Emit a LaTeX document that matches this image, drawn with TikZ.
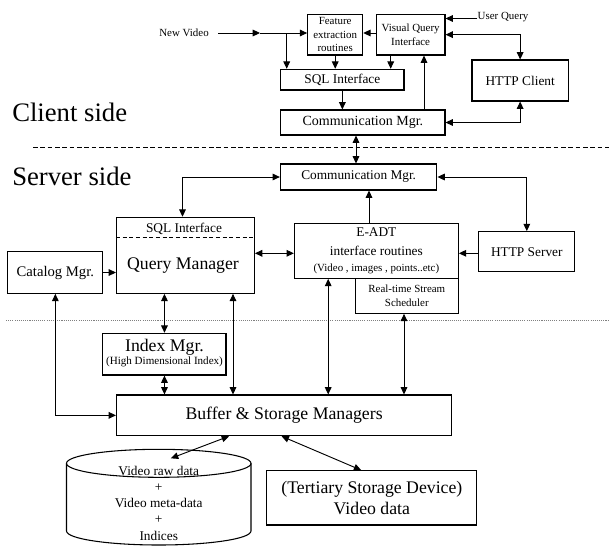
\documentclass[tikz,border=0pt]{standalone}
\usepackage{fontspec}
\setmainfont{Liberation Serif}
\usetikzlibrary{arrows.meta,calc}
% a box given by its corners (in px units): name, x1, y1, x2, y2, style, text
\newcommand\pxbox[7]{%
  \node[box,#6,minimum width={(#4-#2)*0.75pt},minimum height={(#5-#3)*0.75pt}]
    (#1) at ({(#2+#4)/2},{(#3+#5)/2}) {#7};}
\begin{document}
\begin{tikzpicture}[x=0.75pt,y=-0.75pt,
  box/.style={draw,line width=0.8pt,inner sep=0pt,align=center},
  lbl/.style={inner sep=0pt,align=center},
  tip/.tip={Triangle[length=5.5pt,width=5pt]},
  arr/.style={-tip,line width=0.7pt},
  biarr/.style={tip-tip,line width=0.7pt},
  fside/.style={font=\fontsize{20pt}{24pt}\selectfont},
  fbig/.style={font=\fontsize{13.3pt}{16pt}\selectfont},
  fcat/.style={font=\fontsize{11pt}{13pt}\selectfont},
  fmid/.style={font=\fontsize{10pt}{12.2pt}\selectfont},
  fcomm/.style={font=\fontsize{10.5pt}{12.2pt}\selectfont},
  fsmall/.style={font=\fontsize{8.2pt}{10pt}\selectfont},
  sepdash/.style={line width=0.7pt,dash pattern=on 3.5pt off 2pt},
  sepdot/.style={line width=0.7pt,gray,dash pattern=on 0.8pt off 0.8pt}]
\useasboundingbox (0,0) rectangle (609,546);

% ---------- client side ----------
\pxbox{feat}{307.7}{14.3}{362.7}{55}{fsmall}{Feature\\extraction\\routines}
\pxbox{vqi}{376.3}{14.3}{445}{55}{fsmall}{Visual Query\\Interface}
\pxbox{csql}{280.7}{69.3}{404}{90}{fmid}{SQL Interface}
\pxbox{ccomm}{280.7}{110}{445}{135}{fcomm}{Communication Mgr.}
\pxbox{hclient}{472}{60}{568.3}{101}{fmid}{HTTP Client}
\node[lbl,fsmall] (nv) at (184,33) {New Video};
\node[lbl,fsmall] (uq) at (503,17) {User Query};

\node[lbl,fside,anchor=base west] (clientlbl) at (12,121) {Client side};
\node[lbl,fside,anchor=base west] (serverlbl) at (12,185) {Server side};

% ---------- server side ----------
\pxbox{scomm}{280.4}{164}{436.9}{190}{fmid}{Communication Mgr.}
\pxbox{qm}{116.5}{217.3}{254.4}{293.3}{}{}
\draw[line width=0.7pt,dash pattern=on 3pt off 2pt] (qm.west |- 0,237.7) -- (qm.east |- 0,237.7);
\node[lbl,fmid] (qmsql) at (184,229) {SQL Interface};
\node[lbl,fbig] (qmname) at (183,266) {Query Manager};
\pxbox{cat}{7.8}{251.7}{102.9}{293.3}{fcat}{Catalog Mgr.}
\pxbox{eadt}{294.4}{223.3}{458.3}{278.3}{fmid}
  {E-ADT\\[1.5pt]interface routines\\{\fontsize{8.2pt}{10pt}\selectfont (Video , images , points..etc)}}
\pxbox{rtss}{355.3}{278.3}{458.3}{313.3}{fsmall}{Real-time Stream\\Scheduler}
\pxbox{hserver}{478.8}{231.7}{574.8}{271.7}{fmid}{HTTP Server}
\pxbox{index}{102.9}{333.3}{226}{375}{}{}
\node[lbl,fbig] (indexname) at (164.5,347) {Index Mgr.};
\node[lbl,font=\fontsize{8.3pt}{10pt}\selectfont] (indexsub) at (164.5,362) {(High Dimensional Index)};
\pxbox{buf}{116.5}{395}{451.7}{435.7}{fbig}{Buffer \& Storage Managers}
\pxbox{tert}{266.8}{470.7}{476.9}{525}{fbig}{(Tertiary Storage Device)\\Video data}

% disk cylinder
\draw[line width=0.8pt] (66.5,463.3) -- (66.5,531) arc[start angle=180,end angle=0,x radius=92.25,y radius=14] -- (251,463.3);
\draw[line width=0.8pt] (158.75,463.3) ellipse[x radius=92.25,y radius=14];
\node[lbl,fmid] (db) at (158.75,503) {Video raw data\\+\\Video meta-data\\+\\Indices};

% separators
\draw[sepdash] (33,147.5) -- (609,147.5);
\draw[sepdot] (6,320) -- (609,320);

% helper coordinates for connector positions
\coordinate (nvmid) at (260,33);
\coordinate (nvsplit) at (286.7,33);
\coordinate (kA) at (390.7,0);
\coordinate (kB) at (424,0);
\coordinate (kC) at (356,0);
\coordinate (kD) at (182.5,0);
\coordinate (kE) at (369,0);
\coordinate (kF) at (0,253.3);
\coordinate (kG) at (233,0);
\coordinate (kH) at (328.2,0);
\coordinate (kI) at (404,0);
\coordinate (kJ) at (229,0);
\coordinate (kK) at (281.6,0);
\coordinate (kL) at (361.2,0);
\coordinate (dbin) at (170.9,458.3);

% ---------- connectors ----------
\draw[arr] ([xshift=7pt]nv.east |- nvmid) -- (nvmid);
\draw[arr] (nvmid) -- (nvmid -| feat.west);
\draw[arr] (nvsplit) -- (nvsplit |- csql.north);
\draw[arr] (feat.south) -- (feat.south |- csql.north);
\draw[arr] (vqi.south -| kA) -- (csql.north -| kA);
\draw[arr] (vqi.west |- nvmid) -- (feat.east |- nvmid);
\draw[arr] (uq.west |- 0,18.5) -- (vqi.east |- 0,18.5);
\draw[biarr] (vqi.east) -| (hclient.north);
\draw[arr] (csql.south) -- (csql.south |- ccomm.north);
\draw[arr] (ccomm.north -| kB) -- (vqi.south -| kB);
\draw[biarr] (ccomm.east) -| (hclient.south);
\draw[biarr] (ccomm.south -| kC) -- (scomm.north -| kC);

\draw[biarr] (scomm.west) -| (qm.north -| kD);
\draw[biarr] (scomm.east) -| (hserver.north);
\draw[arr] (eadt.north -| kE) -- (scomm.south -| kE);
\draw[biarr] (qm.east |- kF) -- (eadt.west |- kF);
\draw[arr] (hserver.west |- kF) -- (eadt.east |- kF);
\draw[arr] (cat.east) -- (cat.east -| qm.west);
\draw[biarr] (cat.south) |- (buf.west);
\draw[biarr] (qm.south -| index.north) -- (index.north);
\draw[biarr] (index.south) -- (index.south |- buf.north);
\draw[biarr] (qm.south -| kG) -- (buf.north -| kG);
\draw[biarr] (eadt.south -| kH) -- (buf.north -| kH);
\draw[biarr] (rtss.south -| kI) -- (buf.north -| kI);
\draw[biarr] (buf.south -| kJ) -- (dbin);
\draw[biarr] (buf.south -| kK) -- (tert.north -| kL);
\end{tikzpicture}
\end{document}
